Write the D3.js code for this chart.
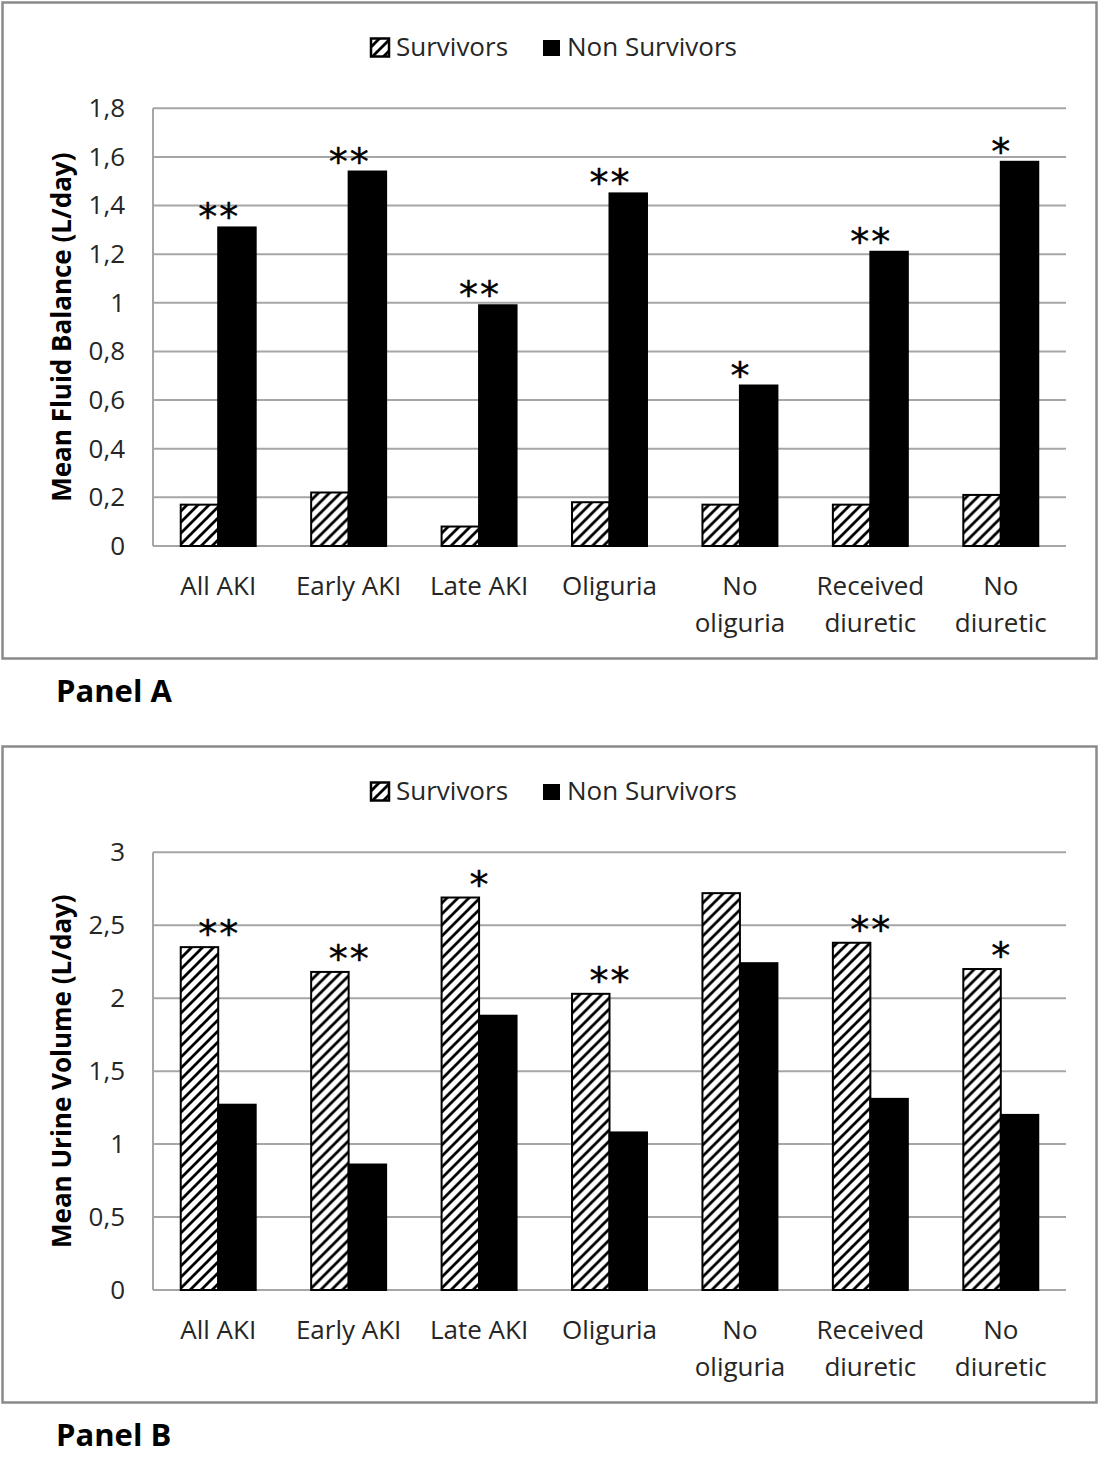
<!DOCTYPE html>
<html>
<head>
<meta charset="utf-8">
<script src="https://cdn.jsdelivr.net/npm/d3@7"></script>
<style>
  html, body { margin: 0; padding: 0; background: #fff; }
  svg { display: block; }
</style>
</head>
<body>
<svg id="chart" width="1100" height="1481"></svg>
<script>
// ---------- DATA ----------
const categories = ["All AKI", "Early AKI", "Late AKI", "Oliguria", "No\noliguria", "Received\ndiuretic", "No\ndiuretic"];
const seriesNames = ["Survivors", "Non Survivors"];

const fluidSurvivors    = [0.17, 0.22, 0.08, 0.18, 0.17, 0.17, 0.21];
const fluidNonSurvivors = [1.31, 1.54, 0.99, 1.45, 0.66, 1.21, 1.58];
const fluidSignificance = ["**", "**", "**", "**", "*", "**", "*"];
const fluidTicks        = [0, 0.2, 0.4, 0.6, 0.8, 1, 1.2, 1.4, 1.6, 1.8];
const fluidTickLabels   = ["0", "0,2", "0,4", "0,6", "0,8", "1", "1,2", "1,4", "1,6", "1,8"];

const urineSurvivors    = [2.35, 2.18, 2.69, 2.03, 2.72, 2.38, 2.20];
const urineNonSurvivors = [1.27, 0.86, 1.88, 1.08, 2.24, 1.31, 1.20];
const urineSignificance = ["**", "**", "*", "**", "", "**", "*"];
const urineTicks        = [0, 0.5, 1, 1.5, 2, 2.5, 3];
const urineTickLabels   = ["0", "0,5", "1", "1,5", "2", "2,5", "3"];

// ---------- DRAW ----------
const svg = d3.select("#chart");
const FONT = "'Open Sans', 'Segoe UI', sans-serif";
const BOLD = "'Open Sans', Lato, sans-serif";
const TXT = "#262626";

const defs = svg.append("defs");
const P = 11;
const pat = defs.append("pattern")
  .attr("id", "hatch").attr("patternUnits", "userSpaceOnUse")
  .attr("width", P).attr("height", P);
pat.append("rect").attr("width", P).attr("height", P).attr("fill", "#fff");
pat.append("path").attr("d", `M-2,2 L2,-2 M0,${P} L${P},0 M${P - 2},${P + 2} L${P + 2},${P - 2}`)
  .attr("stroke", "#000").attr("stroke-width", 2.8);

function drawPanel(opts) {
  const g = svg.append("g").attr("transform", `translate(0,${opts.offsetY})`);
  // frame
  g.append("rect").attr("x", 2.5).attr("y", 2.5).attr("width", 1094).attr("height", 656)
    .attr("fill", "none").attr("stroke", "#8a8a8a").attr("stroke-width", 2.5);

  const left = 153, right = 1066, top = 108.3, bottom = 546;
  const x0 = d3.scaleBand().domain(categories).range([left, right]).padding(0);
  const x1 = d3.scaleBand().domain(seriesNames).range([0, x0.bandwidth()])
    .paddingInner(0).paddingOuter(0.74);
  const y = d3.scaleLinear().domain(opts.domain).range([bottom, top]);

  // gridlines
  g.append("g").selectAll("line").data(opts.ticks).join("line")
    .attr("x1", left).attr("x2", right)
    .attr("y1", d => y(d)).attr("y2", d => y(d))
    .attr("stroke", "#a6a6a6").attr("stroke-width", 2);
  // left axis line
  g.append("line").attr("x1", left).attr("x2", left).attr("y1", top).attr("y2", bottom)
    .attr("stroke", "#a6a6a6").attr("stroke-width", 2);

  // y tick labels
  const yAxis = d3.axisLeft(y).tickValues(opts.ticks)
    .tickFormat((d, i) => opts.tickLabels[i]).tickSize(0).tickPadding(28);
  const ya = g.append("g").attr("transform", `translate(${left},0)`).call(yAxis);
  ya.select(".domain").remove();
  ya.selectAll("text").attr("font-family", FONT).attr("font-size", 26).attr("fill", TXT);

  // bars
  const rows = categories.map((c, i) => ({ c, i, vals: [opts.surv[i], opts.non[i]] }));
  const grp = g.append("g").selectAll("g").data(rows).join("g")
    .attr("transform", d => `translate(${x0(d.c)},0)`);
  grp.selectAll("rect").data(d => d.vals.map((v, k) => ({ s: seriesNames[k], v, k }))).join("rect")
    .attr("x", d => x1(d.s)).attr("width", x1.bandwidth())
    .attr("y", d => y(d.v)).attr("height", d => y(0) - y(d.v))
    .attr("fill", d => d.k === 0 ? "url(#hatch)" : "#000")
    .attr("stroke", "#000").attr("stroke-width", 2);

  // significance stars
  rows.forEach(r => {
    const s = opts.sig[r.i];
    if (!s) return;
    const cx = x0(r.c) + x0.bandwidth() / 2;
    const cy = y(Math.max(...r.vals)) - opts.starGap;
    for (let k = 0; k < s.length; k++) {
      g.append("text").attr("x", cx + (k - (s.length - 1) / 2) * 21)
        .attr("y", cy + 20).attr("text-anchor", "middle")
        .attr("font-family", "'DejaVu Sans', sans-serif").attr("font-size", 38)
        .attr("stroke", "#000").attr("stroke-width", 0.4)
        .attr("fill", "#000").text("*");
    }
  });

  // x labels
  const xl = g.append("g").selectAll("text").data(categories).join("text")
    .attr("text-anchor", "middle").attr("font-family", FONT).attr("font-size", 26).attr("fill", TXT)
    .attr("transform", d => `translate(${x0(d) + x0.bandwidth() / 2},${bottom + 49})`);
  xl.selectAll("tspan").data(d => d.split("\n")).join("tspan")
    .attr("x", 0).attr("dy", (d, i) => i === 0 ? 0 : 37).text(d => d);

  // y title
  g.append("text").attr("transform", `translate(71,${(top + bottom) / 2}) rotate(-90)`)
    .attr("text-anchor", "middle").attr("font-family", BOLD).attr("font-weight", "bold")
    .attr("font-size", 26).attr("fill", "#000").text(opts.title);

  // legend
  const lg = g.append("g");
  lg.append("rect").attr("x", 371).attr("y", 38.5).attr("width", 18).attr("height", 18)
    .attr("fill", "url(#hatch)").attr("stroke", "#000").attr("stroke-width", 2.5);
  lg.append("text").attr("x", 396).attr("y", 56).attr("font-family", FONT).attr("font-size", 26)
    .attr("fill", TXT).text(seriesNames[0]);
  lg.append("rect").attr("x", 543).attr("y", 40).attr("width", 17).attr("height", 16).attr("fill", "#000");
  lg.append("text").attr("x", 567).attr("y", 56).attr("font-family", FONT).attr("font-size", 26)
    .attr("fill", TXT).text(seriesNames[1]);

  // panel label
  g.append("text").attr("x", 56).attr("y", 702).attr("font-family", BOLD).attr("font-weight", "bold")
    .attr("font-size", 31).attr("fill", "#000").text(opts.panel);
}

drawPanel({ offsetY: 0, domain: [0, 1.8], ticks: fluidTicks, tickLabels: fluidTickLabels,
  surv: fluidSurvivors, non: fluidNonSurvivors, sig: fluidSignificance, starGap: 17,
  title: "Mean Fluid Balance (L/day)", panel: "Panel A" });
drawPanel({ offsetY: 744, domain: [0, 3], ticks: urineTicks, tickLabels: urineTickLabels,
  surv: urineSurvivors, non: urineNonSurvivors, sig: urineSignificance, starGap: 20,
  title: "Mean Urine Volume (L/day)", panel: "Panel B" });
</script>
</body>
</html>
